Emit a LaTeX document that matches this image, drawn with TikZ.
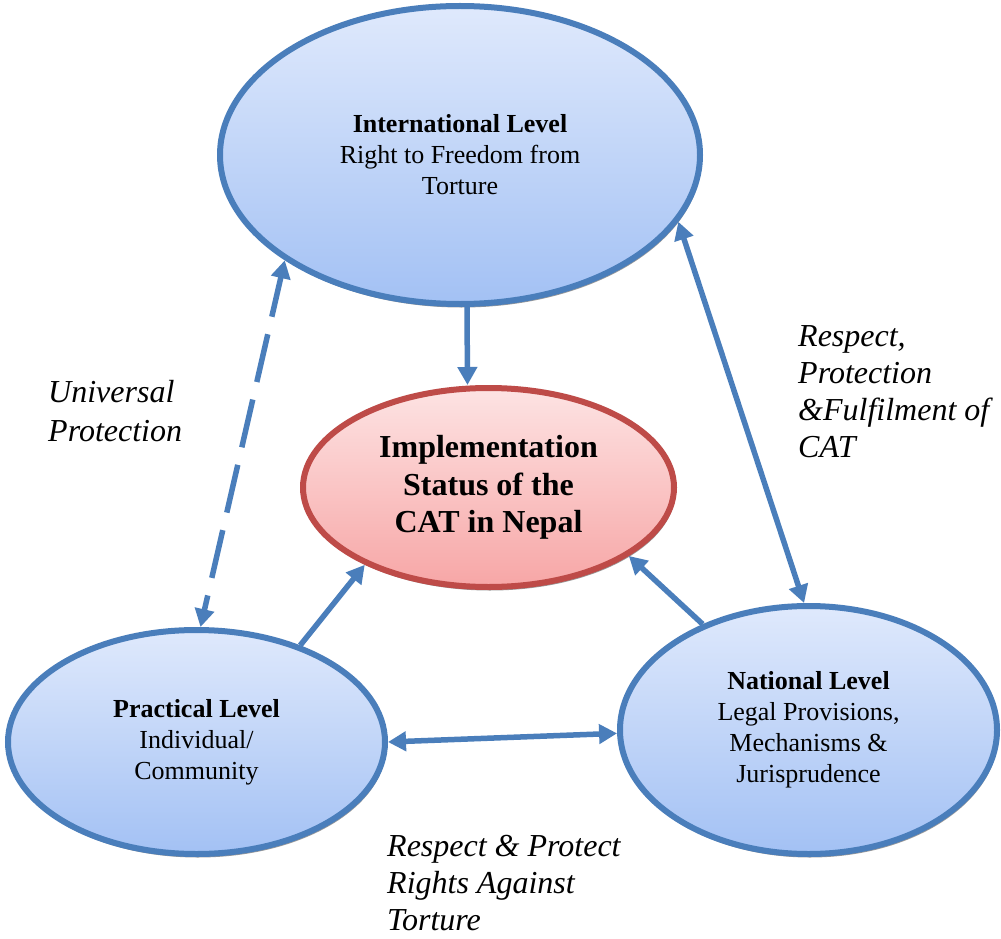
\documentclass[tikz,border=0pt]{standalone}
\usepackage{fontspec}
\setmainfont{Liberation Serif}
\usetikzlibrary{arrows.meta,shapes.geometric,shadows}
\definecolor{edgeblue}{HTML}{4A7EBB}
\definecolor{filltop}{HTML}{DFE9FC}
\definecolor{fillbot}{HTML}{A3C1F4}
\definecolor{edgered}{HTML}{BE4B48}
\definecolor{redtop}{HTML}{FDE3E3}
\definecolor{redbot}{HTML}{F7A6A6}
\tikzset{
  level/.style={ellipse, draw=edgeblue, line width=6pt, top color=filltop,
    bottom color=fillbot, align=center, inner sep=0pt,
    font=\fontsize{26}{31}\selectfont,
    drop shadow={shadow xshift=1.5pt, shadow yshift=-3.5pt, fill=black!40, opacity=1}},
  core/.style={level, draw=edgered, top color=redtop, bottom color=redbot,
    font=\fontsize{32}{37.5}\selectfont\bfseries},
  conn/.style={draw=edgeblue, line width=5.5pt, -{Triangle[length=18pt,width=19pt]}},
  both/.style={draw=edgeblue, line width=5.5pt,
    {Triangle[length=18pt,width=19pt]}-{Triangle[length=18pt,width=19pt]}},
  % multi-line labels sit on the baseline of their last line
  note/.style={anchor=base west, align=left, inner sep=0pt,
    font=\fontsize{32}{37}\selectfont\itshape},
}
\begin{document}
\begin{tikzpicture}[x=1pt, y=-1pt]
  \fill[white] (0,0) rectangle (1001,939);
  \useasboundingbox (0,0) rectangle (1001,939);

  % the four levels
  \node[level, minimum width=480pt, minimum height=298pt] (top) at (460,155)
    {{\bfseries International Level}\\Right to Freedom from\\Torture};
  \node[level, minimum width=377pt, minimum height=224pt] (prac) at (196.5,742)
    {{\bfseries Practical Level}\\Individual/\\Community};
  \node[level, minimum width=377pt, minimum height=248pt] (nat) at (808.5,730)
    {{\bfseries National Level}\\Legal Provisions,\\Mechanisms \&\\Jurisprudence};
  \node[core, minimum width=371pt, minimum height=199pt] (core) at (488.5,487.5)
    {Implementation\\Status of the\\CAT in Nepal};

  % connectors
  \draw[conn] ([xshift=7pt]top.south) -- ([xshift=-21pt]core.north);
  \draw[both, dash pattern=on 49pt off 18pt, dash phase=8pt] (top.211) -- (prac.88);
  \draw[both] (top.-17) -- (nat.92.6);
  \draw[conn] (prac.43.3) -- (core.212.6);
  \draw[conn] (nat.135.8) -- (core.-26.2);
  \draw[both] (prac.0) -- (nat.181.5);

  % relation labels
  \node[note, font=\fontsize{32}{39}\selectfont\itshape] (lblU) at (48,441)
    {Universal\\Protection};
  \node[note] (lblR) at (798,457)
    {Respect,\\Protection\\\&Fulfilment of\\CAT};
  \node[note] (lblB) at (387,930)
    {Respect \& Protect\\Rights Against\\Torture};
\end{tikzpicture}
\end{document}
